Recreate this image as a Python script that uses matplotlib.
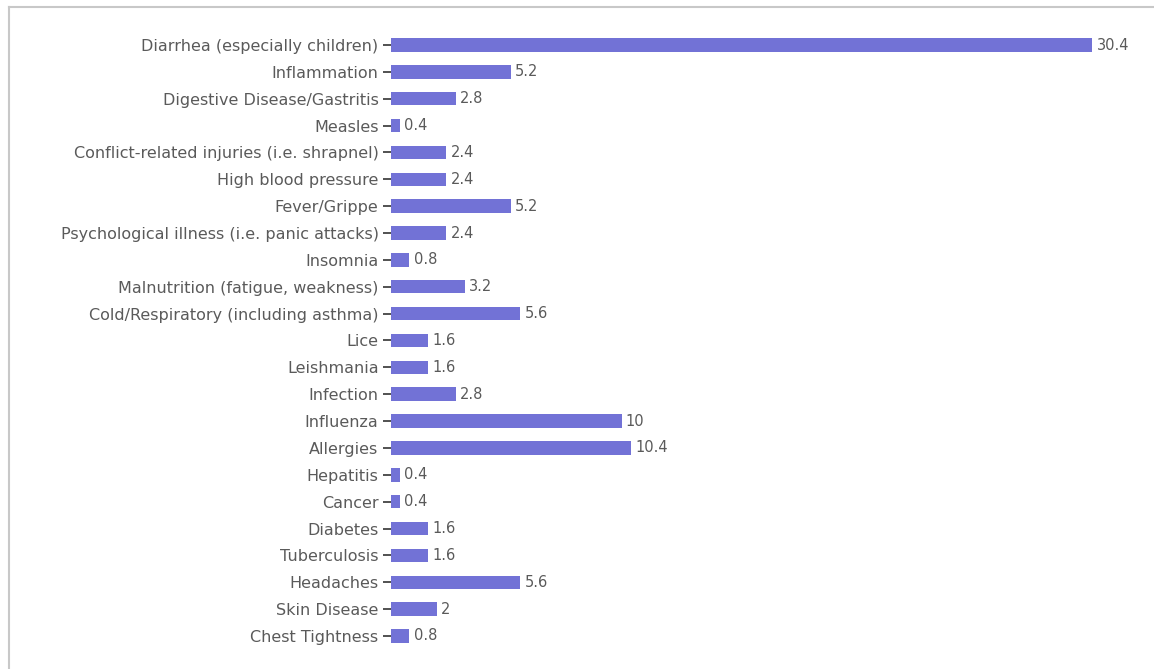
import matplotlib
matplotlib.use("Agg")
import matplotlib.pyplot as plt
from matplotlib.lines import Line2D

conditions = [
    "Diarrhea (especially children)",
    "Inflammation",
    "Digestive Disease/Gastritis",
    "Measles",
    "Conflict-related injuries (i.e. shrapnel)",
    "High blood pressure",
    "Fever/Grippe",
    "Psychological illness (i.e. panic attacks)",
    "Insomnia",
    "Malnutrition (fatigue, weakness)",
    "Cold/Respiratory (including asthma)",
    "Lice",
    "Leishmania",
    "Infection",
    "Influenza",
    "Allergies",
    "Hepatitis",
    "Cancer",
    "Diabetes",
    "Tuberculosis",
    "Headaches",
    "Skin Disease",
    "Chest Tightness",
]
percent = [30.4, 5.2, 2.8, 0.4, 2.4, 2.4, 5.2, 2.4, 0.8, 3.2, 5.6, 1.6, 1.6,
           2.8, 10, 10.4, 0.4, 0.4, 1.6, 1.6, 5.6, 2, 0.8]

bar_color = "#7272d6"
text_color = "#5a5a5a"

fig = plt.figure(figsize=(11.54, 6.69), dpi=100)
ax = fig.add_axes([391 / 1154, 0.0293, 729 / 1154, 0.9235])

y = list(range(len(conditions)))
ax.barh(y, percent, height=0.5, color=bar_color)
ax.set_ylim(len(conditions) - 0.5, -0.5)
ax.set_xlim(0, 31.6)

ax.set_yticks(y)
ax.set_yticklabels(conditions, fontsize=11.5, color=text_color)
ax.tick_params(axis="y", length=6, width=1.2, color="#333333", pad=3)
ax.set_xticks([])
for s in ax.spines.values():
    s.set_visible(False)

for yi, v in zip(y, percent):
    label = f"{v:g}"
    ax.annotate(label, (v, yi), xytext=(3, 0), textcoords="offset points",
                va="center", ha="left", fontsize=10.5, color=text_color)

# thin grey frame along the top and left of the figure
fig.add_artist(Line2D([8.5 / 1154, 8.5 / 1154], [0, 1 - 7 / 669],
                      transform=fig.transFigure, color="#c8c8c8", lw=1.5))
fig.add_artist(Line2D([8.5 / 1154, 1], [1 - 7 / 669, 1 - 7 / 669],
                      transform=fig.transFigure, color="#c8c8c8", lw=1.5))

fig.savefig("out.png", dpi=100)
